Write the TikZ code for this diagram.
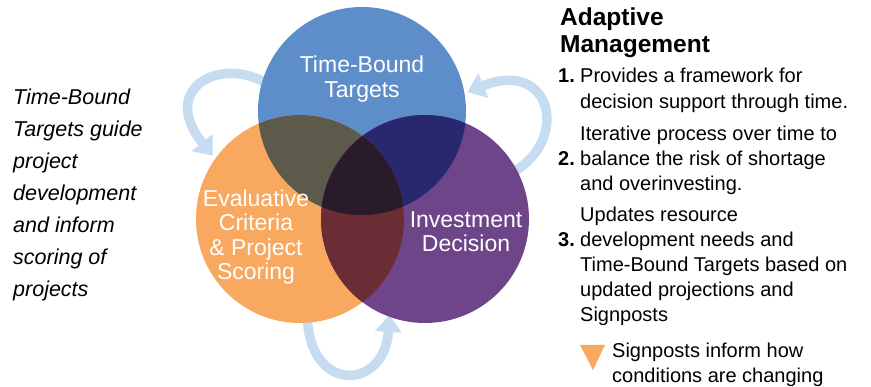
\documentclass[tikz,border=0pt]{standalone}
\usepackage{fontspec}
\setmainfont{Liberation Sans}
\usetikzlibrary{arrows.meta}
\definecolor{cblue}{HTML}{5E8EC9}
\definecolor{corange}{HTML}{F8A85F}
\definecolor{cpurple}{HTML}{6F4589}
\definecolor{cbo}{HTML}{5C5B4B}
\definecolor{cbp}{HTML}{29276D}
\definecolor{cop}{HTML}{6C2C36}
\definecolor{call}{HTML}{2A1B2B}
\definecolor{carrow}{HTML}{C6DCF1}
\begin{document}
\begin{tikzpicture}[x=1pt,y=-1pt,
  venn/.style={circle, minimum size=208pt, inner sep=0pt},
  loop/.style={draw=carrow, line width=9.5pt, -{Triangle[width=26pt,length=17pt]}},
  ctext/.style={text=white, font=\fontsize{23}{26}\selectfont, anchor=base, inner sep=0pt},
  ltext/.style={font=\fontsize{21.5}{26}\selectfont\itshape, anchor=base west, inner sep=0pt},
  htext/.style={font=\fontsize{24.5}{28}\selectfont\bfseries, anchor=base west, inner sep=0pt},
  rtext/.style={font=\fontsize{20}{24}\selectfont, anchor=base west, inner sep=0pt},
  ntext/.style={font=\fontsize{20}{24}\selectfont\bfseries, anchor=base west, inner sep=0pt}]
\useasboundingbox (0,0) rectangle (871,387);
\fill[white] (0,0) rectangle (871,387);
% circles (named)
\node[venn] (tb) at (362,111) {};
\node[venn] (ev) at (300,219) {};
\node[venn] (iv) at (425,219) {};
% loop arrows behind circles
\draw[loop] ([shift={(6,2)}]tb.164) .. controls (222,55) and (158,88) .. ([shift={(-3,-2)}]ev.144);
\draw[loop] ([shift={(-4,2)}]iv.28) .. controls (570,140) and (552,58) .. ([shift={(3,-1)}]tb.10);
\draw[loop] ([shift={(0,-6)}]ev.274) .. controls (310,395) and (385,390) .. ([shift={(0,-2)}]iv.250);
% circle fills
\fill[cblue] (tb.center) circle (104);
\fill[corange] (ev.center) circle (104);
\fill[cpurple] (iv.center) circle (104);
\begin{scope}
  \clip (tb.center) circle (104);
  \fill[cbo] (ev.center) circle (104);
  \fill[cbp] (iv.center) circle (104);
\end{scope}
\begin{scope}
  \clip (ev.center) circle (104);
  \fill[cop] (iv.center) circle (104);
\end{scope}
\begin{scope}
  \clip (tb.center) circle (104);
  \clip (ev.center) circle (104);
  \fill[call] (iv.center) circle (104);
\end{scope}
% circle texts
\node[ctext] (tb1) at (362,73) {Time-Bound};
\node[ctext] (tb2) at (362,98) {Targets};
\node[ctext] (ev1) at (256,207) {Evaluative};
\node[ctext] (ev2) at (256,231) {Criteria};
\node[ctext] (ev3) at (256,256) {\& Project};
\node[ctext] (ev4) at (256,280) {Scoring};
\node[ctext] (iv1) at (466,228) {Investment};
\node[ctext] (iv2) at (466,252) {Decision};
% left text
\foreach \yy/\tt [count=\i] in {105/Time-Bound, 137/Targets guide, 169/project, 201/development, 233/and inform, 265/scoring of, 297/projects}
  \node[ltext] (l\i) at (13,\yy) {\tt};
% right heading
\node[htext] (h1) at (560,26) {Adaptive};
\node[htext] (h2) at (560,53) {Management};
% list
\node[ntext] (n1) at (558,83) {1.};
\node[ntext] (n2) at (558,166) {2.};
\node[ntext] (n3) at (558,247) {3.};
\foreach \yy/\tt [count=\i] in {83/Provides a framework for, 109/decision support through time., 141/Iterative process over time to, 166/balance the risk of shortage, 191/and overinvesting., 222/Updates resource, 247/development needs and, 272/Time-Bound Targets based on, 297/updated projections and, 322/Signposts}
  \node[rtext] (r\i) at (580,\yy) {\tt};
% signpost marker
\fill[corange] (580,345) -- (605,345) -- (593,370) -- cycle;
\node[rtext] (s1) at (612,358) {Signposts inform how};
\node[rtext] (s2) at (612,383) {conditions are changing};
\end{tikzpicture}
\end{document}
